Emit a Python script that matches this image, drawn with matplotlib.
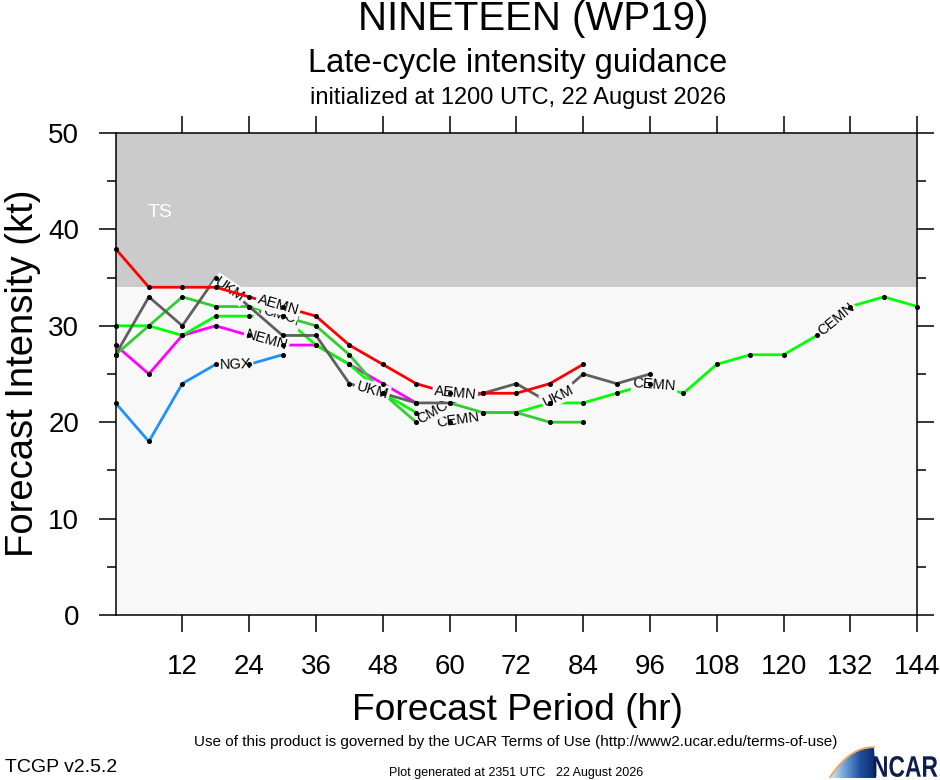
import numpy as np
import matplotlib
matplotlib.use("Agg")
import matplotlib.pyplot as plt
from matplotlib.path import Path
from matplotlib.patches import PathPatch
from matplotlib.textpath import TextPath
from matplotlib.font_manager import FontProperties
from matplotlib.transforms import Affine2D

plt.rcParams['font.family'] = ['Liberation Sans', 'DejaVu Sans']

# ---------------- data ----------------
hours_aemn = [0, 6, 12, 18, 24, 30, 36, 42, 48, 54, 60, 66, 72, 78, 84]
aemn = [38, 34, 34, 34, 33, 32, 31, 28, 26, 24, 23, 23, 23, 24, 26]

hours_ukm = [0, 6, 12, 18, 24, 30, 36, 42, 48, 54, 60, 66, 72, 78, 84, 90, 96]
ukm = [27, 33, 30, 35, 32, 29, 29, 24, 23, 22, 22, 23, 24, 22, 25, 24, 25]

hours_cmc = [0, 6, 12, 18, 24, 30, 36, 42, 48, 54, 60, 66, 72, 78, 84]
cmc = [27, 30, 33, 32, 32, 31, 30, 27, 23, 20, 22, 21, 21, 20, 20]

hours_cemn = [0, 6, 12, 18, 24, 30, 36, 42, 48, 54, 60, 66, 72, 78, 84, 90, 96,
              102, 108, 114, 120, 126, 132, 138, 144]
cemn = [30, 30, 29, 31, 31, 31, 28, 26, 23, 21, 20, 21, 21, 22, 22, 23, 24,
        23, 26, 27, 27, 29, 32, 33, 32]

hours_nemn = [0, 6, 12, 18, 24, 30, 36, 42, 48, 54]
nemn = [28, 25, 29, 30, 29, 28, 28, 26, 24, 22]

hours_ngx = [0, 6, 12, 18, 24, 30]
ngx = [22, 18, 24, 26, 26, 27]

models = ['AEMN', 'UKM', 'CMC', 'CEMN', 'NEMN', 'NGX']
x_ticks = [12, 24, 36, 48, 60, 72, 84, 96, 108, 120, 132, 144]
y_ticks = [0, 10, 20, 30, 40, 50]
ts_threshold = 34

# where each model's name is written along its line (forecast hour)
label_hours = {
    'AEMN': [29.2, 61.0],
    'UKM': [20.5, 46.1, 79.5],
    'CMC': [29.4, 57.0],
    'CEMN': [29.2, 61.5, 96.8, 129.4],
    'NEMN': [27.1],
    'NGX': [21.6],
}

series = {
    'AEMN': (hours_aemn, aemn),
    'UKM': (hours_ukm, ukm),
    'CMC': (hours_cmc, cmc),
    'CEMN': (hours_cemn, cemn),
    'NEMN': (hours_nemn, nemn),
    'NGX': (hours_ngx, ngx),
}
colors = {
    'AEMN': '#ff0000',
    'UKM': '#5f5f5f',
    'CMC': '#33cc33',
    'CEMN': '#00ff00',
    'NEMN': '#ff00ff',
    'NGX': '#1e90ff',
}
draw_order = ['NGX', 'NEMN', 'CEMN', 'CMC', 'UKM', 'AEMN']

# ---------------- figure ----------------
W, H = 940, 780
fig = plt.figure(figsize=(W / 100, H / 100), dpi=100)
fig.patch.set_facecolor('white')

ax_l, ax_r, ax_t, ax_b = 115.5, 917.3, 133, 615
ax = fig.add_axes([ax_l / W, 1 - ax_b / H, (ax_r - ax_l) / W, (ax_b - ax_t) / H])
bg_low = '#f8f8f8'
ax.set_facecolor(bg_low)
ax.set_xlim(0, 144)
ax.set_ylim(0, 50)
ax.axhspan(ts_threshold, 50, color='#cbcbcb', zorder=0.5, lw=0)
ax.text(8.0, 41.8, 'TS', color='white', fontsize=14, ha='center', va='center',
        zorder=1)

for sp in ax.spines.values():
    sp.set_linewidth(1.1)
    sp.set_zorder(30)

ax.set_xticks(x_ticks)
ax.set_xticklabels([str(t) for t in x_ticks])
ax.set_yticks(y_ticks)
ax.set_yticks([5, 15, 25, 35, 45], minor=True)
ax.tick_params(which='both', direction='out', top=True, right=True,
               labeltop=False, labelright=False, width=1.1, labelsize=20)
ax.tick_params(which='major', length=12.2)
ax.tick_params(which='minor', length=6.5)
ax.tick_params(axis='y', pad=14)
ax.tick_params(axis='x', pad=16)

fig.canvas.draw()
trans = ax.transData

for i, m in enumerate(draw_order):
    hrs, vals = series[m]
    z = 3 + i
    ax.plot(hrs, vals, color=colors[m], lw=2.0, zorder=z, solid_capstyle='butt')
    for lh in label_hours[m]:
        lv = np.interp(lh, hrs, vals)
        h0, h1 = max(lh - 3, hrs[0]), min(lh + 3, hrs[-1])
        p0 = trans.transform((h0, np.interp(h0, hrs, vals)))
        p1 = trans.transform((h1, np.interp(h1, hrs, vals)))
        ang = np.degrees(np.arctan2(p1[1] - p0[1], p1[0] - p0[0]))
        ax.text(lh, lv, m, fontsize=10.5, ha='center', va='center',
                rotation=ang, rotation_mode='anchor', zorder=z + 0.5,
                bbox=dict(boxstyle='square,pad=0.12', fc=bg_low, ec='none'))

for m in draw_order:
    hrs, vals = series[m]
    ax.plot(hrs, vals, 'o', color='black', ms=2.6, zorder=20, clip_on=False)

# ---------------- titles & labels ----------------
fig.text(533 / W, 1 - 30 / H, 'NINETEEN (WP19)', fontsize=29, ha='center',
         va='baseline')
fig.text(518 / W, 1 - 72 / H, 'Late-cycle intensity guidance', fontsize=23.5,
         ha='center', va='baseline')
fig.text(518 / W, 1 - 104 / H, 'initialized at 1200 UTC, 22 August 2026',
         fontsize=17, ha='center', va='baseline')
fig.text(517 / W, 1 - 720 / H, 'Forecast Period (hr)', fontsize=26.8,
         ha='center', va='baseline')
fig.text(33 / W, 1 - 373.5 / H, 'Forecast Intensity (kt)', fontsize=27.5,
         ha='center', va='baseline', rotation=90, rotation_mode='anchor')
fig.text(516 / W, 1 - 746 / H,
         'Use of this product is governed by the UCAR Terms of Use '
         '(http://www2.ucar.edu/terms-of-use)', fontsize=11, ha='center',
         va='baseline')
fig.text(5 / W, 1 - 772 / H, 'TCGP v2.5.2', fontsize=14, ha='left',
         va='baseline')
fig.text(516 / W, 1 - 776 / H, 'Plot generated at 2351 UTC   22 August 2026',
         fontsize=9, ha='center', va='baseline')

# ---------------- NCAR logo ----------------
lax = fig.add_axes([828 / W, 0, 112 / W, 34 / H])
lax.set_xlim(0, 112)
lax.set_ylim(0, 34)
lax.axis('off')
t = np.linspace(0, 1, 40)
upper_x = 2 + 44 * t
upper_y = 2 + 30 * (1 - (1 - t) ** 2.2)
verts = list(zip(upper_x, upper_y)) + [(48, 2), (2, 2)]
path = Path(verts, [Path.MOVETO] + [Path.LINETO] * (len(verts) - 1))
patch = PathPatch(path, fc='none', ec='none')
lax.add_patch(patch)
grad = np.linspace(0, 1, 100)[None, :]
im = lax.imshow(grad, extent=[2, 48, 2, 34], cmap=matplotlib.colors.LinearSegmentedColormap.from_list(
    'ncar', ['#d8e8f6', '#6b9fd4', '#1f4f9c', '#0c2a6e']), aspect='auto', zorder=1)
im.set_clip_path(patch)
lax.plot(upper_x, upper_y + 0.8, color='#f0a050', lw=1.2, zorder=2)

tp = TextPath((0, 0), 'NCAR', size=1,
              prop=FontProperties(family='Liberation Sans', weight='bold'))
ext = tp.get_extents()
sx = 64.0 / ext.width
sy = 21.0 / ext.height
tp_t = Affine2D().translate(-ext.x0, -ext.y0).scale(sx, sy).translate(45.5, 3.0).transform_path(tp)
lax.add_patch(PathPatch(tp_t, fc='#0d1f4f', ec='none', zorder=3))

fig.savefig('out.png', dpi=100)
